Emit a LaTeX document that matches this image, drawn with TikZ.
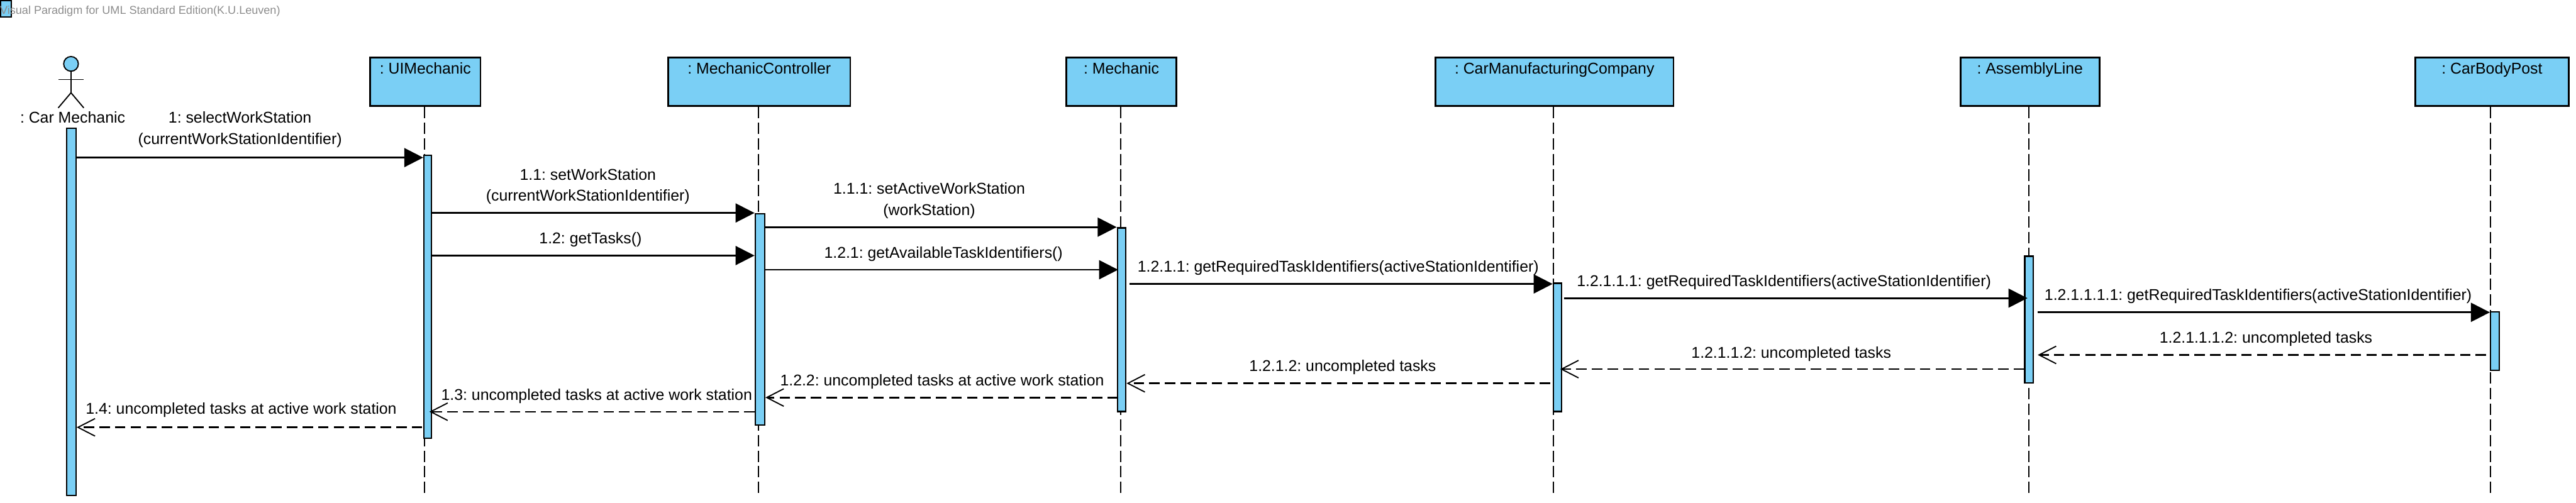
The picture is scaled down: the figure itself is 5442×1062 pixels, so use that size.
\documentclass[tikz,border=0pt]{standalone}
\usepackage{fontspec}
\setmainfont{Liberation Sans}
\usetikzlibrary{arrows.meta,calc}
\frenchspacing
\definecolor{umlblue}{RGB}{122,207,245}
\tikzset{
  x=1pt,y=-1pt,
  objbox/.style={draw=black,fill=umlblue,line width=3.5pt,outer sep=1.75pt,inner sep=0pt,
    anchor=north west,align=center,text height=34.25pt,text depth=68.25pt,font=\msgfont},
  actbar/.style={draw=black,fill=umlblue,line width=3pt,outer sep=1.5pt,inner sep=0pt,anchor=north west},
  lifeline/.style={line width=2.5pt,dash pattern=on 24pt off 9pt},
  call/.style={line width=3.5pt,-{Triangle[length=40pt,width=40pt]}},
  back/.style={line width=3.5pt,dash pattern=on 22pt off 11pt,-{Straight Barb[length=36pt,width=37pt,line width=2.5pt]}},
  msglabel/.style={inner sep=0pt,font=\msgfont,anchor=base west},
  msgcenter/.style={inner sep=0pt,font=\msgfont,anchor=base,align=center},
  stick/.style={line width=2.5pt},
}
\newcommand{\msgfont}{\fontsize{33}{45}\selectfont}
\newcommand{\objnode}[4]{\node[objbox,minimum width={#3-#2-3.5}] (#1) at (#2,120) {#4};}
\newcommand{\barnode}[5]{\node[actbar,minimum width={#4-#2-3},minimum height={#5-#3-3}] (#1) at (#2,#3) {};}
\begin{document}
\begin{tikzpicture}
\useasboundingbox (0,0) rectangle (5442,1062);
% watermark
\node[actbar,minimum width=22,minimum height=34] (logo) at (0,0) {};
\node[inner sep=0pt,anchor=base west,text=gray!90,font=\fontsize{24}{30}\selectfont] (wm) at (0,30) {Visual Paradigm for UML Standard Edition(K.U.Leuven)};
% actor
\node[draw=black,fill=umlblue,line width=2.5pt,circle,minimum size=31,inner sep=0pt,outer sep=0pt] (head) at (150,135) {};
\coordinate (hip) at (150,196);
\coordinate (armL) at (123,168);
\coordinate (armR) at (177,168);
\coordinate (footL) at (123,228);
\coordinate (footR) at (177,228);
\draw[stick] (head.south) -- (hip);
\draw[stick] (armL) -- (armR);
\draw[stick] (footL) -- (hip) -- (footR);
\node[msgcenter] (actorname) at (153.5,260) {: Car Mechanic};
% objects
\objnode{ui}{780}{1017}{: UIMechanic}
\objnode{mc}{1410}{1798}{: MechanicController}
\objnode{me}{2251}{2487}{: Mechanic}
\objnode{cc}{3031}{3537}{: CarManufacturingCompany}
\objnode{al}{4140}{4437}{: AssemblyLine}
\objnode{cb}{5101}{5428}{: CarBodyPost}
% lifelines
\coordinate (endui) at (897,1042);
\coordinate (endmc) at (1602.5,1042);
\coordinate (endme) at (2367,1042);
\coordinate (endcc) at (3282,1042);
\coordinate (endal) at (4286.5,1042);
\coordinate (endcb) at (5261,1042);
\draw[lifeline] (ui.south -| endui) -- (endui);
\draw[lifeline] (mc.south -| endmc) -- (endmc);
\draw[lifeline] (me.south -| endme) -- (endme);
\draw[lifeline] (cc.south -| endcc) -- (endcc);
\draw[lifeline] (al.south -| endal) -- (endal);
\draw[lifeline] (cb.south -| endcb) -- (endcb);
% activations
\barnode{a0}{139}{270}{162}{1048}
\barnode{a1}{894}{327}{913}{928}
\barnode{a2}{1594}{450}{1617}{900}
\barnode{a3}{2359}{480}{2380}{871}
\barnode{a4}{3280}{597}{3300}{871}
\barnode{a5}{4276}{540}{4297}{811}
\barnode{a6}{5260}{657}{5281}{784}
% calls
\draw[call] (a0.east |- 0,333) -- (a1.west |- 0,333);
\draw[call] (a1.east |- 0,450) -- (a2.west |- 0,450);
\draw[call] (a1.east |- 0,540) -- (a2.west |- 0,540);
\draw[call] ([xshift=-2pt]a2.east |- 0,480) -- (a3.west |- 0,480);
\draw[call] ([xshift=-2pt]a2.east |- 0,570) -- ([xshift=3pt]a3.west |- 0,570);
\draw[call] ([xshift=6pt]a3.east |- 0,600) -- (a4.west |- 0,600);
\draw[call] ([xshift=4pt]a4.east |- 0,630) -- ([xshift=7pt]a5.west |- 0,630);
\draw[call] ([xshift=8pt]a5.east |- 0,660) -- (a6.west |- 0,660);
% returns
\draw[back] ([xshift=-8pt]a6.west |- 0,750) -- ([xshift=8pt]a5.east |- 0,750);
\draw[back] (a5.west |- 0,780) -- ([xshift=-4pt]a4.east |- 0,780);
\draw[back] ([xshift=-5pt]a4.west |- 0,810) -- (a3.east |- 0,810);
\draw[back] ([xshift=3pt]a3.west |- 0,840) -- (a2.east |- 0,840);
\draw[back] (a2.west |- 0,870) -- ([xshift=-6pt]a1.east |- 0,870);
\draw[back] ([xshift=-2pt]a1.west |- 0,903) -- (a0.east |- 0,903);
% labels
\node[msgcenter] (l1) at (507,305) {1: selectWorkStation\\(currentWorkStationIdentifier)};
\node[msgcenter] (l11) at (1242,425) {1.1: setWorkStation\\(currentWorkStationIdentifier)};
\node[msgcenter] (l111) at (1963,455) {1.1.1: setActiveWorkStation\\(workStation)};
\node[msglabel] (l12) at (1139,515) {1.2: getTasks()};
\node[msglabel] (l121) at (1741,545) {1.2.1: getAvailableTaskIdentifiers()};
\node[msglabel] (l1211) at (2403,575) {1.2.1.1: getRequiredTaskIdentifiers(activeStationIdentifier)};
\node[msglabel] (l12111) at (3331,605) {1.2.1.1.1: getRequiredTaskIdentifiers(activeStationIdentifier)};
\node[msglabel] (l121111) at (4319,635) {1.2.1.1.1.1: getRequiredTaskIdentifiers(activeStationIdentifier)};
\node[msglabel] (l121112) at (4562,725) {1.2.1.1.1.2: uncompleted tasks};
\node[msglabel] (l12112) at (3573,756) {1.2.1.1.2: uncompleted tasks};
\node[msglabel] (l1212) at (2639,785) {1.2.1.2: uncompleted tasks};
\node[msglabel] (l122) at (1648,815) {1.2.2: uncompleted tasks at active work station};
\node[msglabel] (l13) at (932,846) {1.3: uncompleted tasks at active work station};
\node[msglabel] (l14) at (181,875) {1.4: uncompleted tasks at active work station};
\end{tikzpicture}
\end{document}
